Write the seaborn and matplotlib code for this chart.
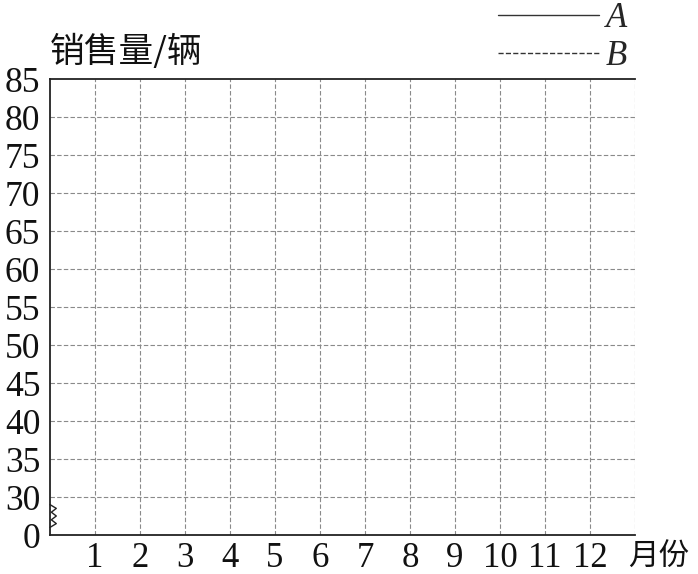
import matplotlib
matplotlib.use("Agg")
import matplotlib.pyplot as plt
import seaborn as sns

# data: empty grid chart, axis break between 0 and 30
months = [1, 2, 3, 4, 5, 6, 7, 8, 9, 10, 11, 12]
y_tick_labels = ["0", "30", "35", "40", "45", "50", "55", "60", "65", "70", "75", "80", "85"]
series_names = ["A", "B"]
series_styles = ["-", "--"]

sns.set_theme(style="white")
plt.rcParams['font.family'] = ['Liberation Serif', 'Noto Sans CJK SC', 'DejaVu Sans']

fig = plt.figure(figsize=(6.98, 5.74), dpi=100)
ax = fig.add_axes([50 / 698, 39 / 574, 585 / 698, 456 / 574])

y_pos = list(range(len(y_tick_labels)))
ax.set_xlim(0, 13)
ax.set_ylim(0, y_pos[-1])

# grid lines
for m in months + [13]:
    ax.axvline(m, color="#8a8a8a", lw=0.8, ls=(0, (4, 2)))
for p in y_pos[1:-1]:
    ax.axhline(p, color="#8a8a8a", lw=0.8, ls=(0, (4, 2)))

ax.set_xticks(months)
ax.set_xticklabels([str(m) for m in months])
ax.set_yticks(y_pos)
ax.set_yticklabels(y_tick_labels)
ax.tick_params(axis="y", length=0, labelsize=25.5, colors="#111111", pad=7)
ax.tick_params(axis="x", length=0, labelsize=25, colors="#111111", pad=5)

for side in ["left", "bottom", "top"]:
    ax.spines[side].set_color("#222222")
    ax.spines[side].set_linewidth(1.3)
ax.spines["right"].set_visible(False)

# zigzag break mark on y axis
zx = [0, 0.14, 0.03, 0.14, 0.03, 0.14, 0]
zy = [0.2, 0.3, 0.4, 0.5, 0.6, 0.7, 0.8]
ax.plot(zx, zy, color="#222222", lw=1.0, clip_on=False)

ax.text(0.0, 1.059, "销售量/辆", transform=ax.transAxes, fontsize=25,
        family=['Noto Sans CJK SC'], ha="left", va="center", color="#111111")
ax.text(1.041, -0.05, "月份", transform=ax.transAxes, fontsize=22,
        family=['Noto Sans CJK SC'], ha="center", va="center", color="#111111")

# legend
handles = []
for name, style in zip(series_names, series_styles):
    line, = ax.plot([], [], color="#333333", lw=1.0, ls=style, label=name)
    handles.append(line)
leg = fig.legend(handles=handles, loc="upper left", bbox_to_anchor=(467 / 698, 1.051),
                 frameon=False, handlelength=2.9, handletextpad=0.2, labelspacing=0.15,
                 prop={'family': 'Liberation Serif', 'style': 'italic', 'size': 25})

fig.savefig("out.png", dpi=100)
